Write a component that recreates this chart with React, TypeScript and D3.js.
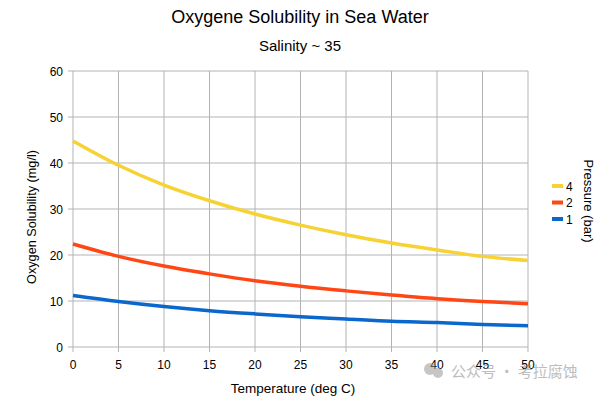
import React, { useEffect, useRef } from 'react';
import * as d3 from 'd3';

const temps = [0, 5, 10, 15, 20, 25, 30, 35, 40, 45, 50];
const bar4 = [44.8, 39.5, 35.2, 31.8, 28.9, 26.5, 24.4, 22.6, 21.1, 19.7, 18.8];
const bar2 = [22.4, 19.7, 17.6, 15.9, 14.4, 13.2, 12.2, 11.3, 10.5, 9.9, 9.4];
const bar1 = [11.2, 9.9, 8.8, 7.9, 7.2, 6.6, 6.1, 5.6, 5.3, 4.9, 4.6];
const seriesNames = ['4', '2', '1'];
const seriesColors = ['#f7d234', '#ff4715', '#0a67cc'];
const yTicks = [0, 10, 20, 30, 40, 50, 60];
const xTicks = [0, 5, 10, 15, 20, 25, 30, 35, 40, 45, 50];

const W = 614;
const H = 396;
const margin = { top: 71, right: 86, bottom: 49, left: 73 };

const App = () => {
  const svgRef = useRef(null);

  useEffect(() => {
    const svg = d3.select(svgRef.current);
    svg.selectAll('*').remove();
    const font = 'Liberation Sans, Arial, sans-serif';

    const x = d3.scaleLinear().domain([0, 50]).range([margin.left, W - margin.right]);
    const y = d3.scaleLinear().domain([0, 60]).range([H - margin.bottom, margin.top]);

    // grid
    const grid = svg.append('g');
    grid.selectAll('.gx').data(xTicks).enter().append('line')
      .attr('x1', (d) => x(d)).attr('x2', (d) => x(d))
      .attr('y1', y(60)).attr('y2', y(0) + 5)
      .attr('stroke', '#b3b3b3').attr('stroke-width', 1);
    grid.selectAll('.gy').data(yTicks).enter().append('line')
      .attr('x1', x(0) - 5).attr('x2', x(50))
      .attr('y1', (d) => y(d)).attr('y2', (d) => y(d))
      .attr('stroke', '#b3b3b3').attr('stroke-width', 1);

    // tick labels
    svg.append('g').selectAll('text').data(yTicks).enter().append('text')
      .attr('x', x(0) - 10).attr('y', (d) => y(d) + 4.5)
      .attr('text-anchor', 'end').attr('font-family', font).attr('font-size', 12)
      .text((d) => d);
    svg.append('g').selectAll('text').data(xTicks).enter().append('text')
      .attr('x', (d) => x(d)).attr('y', y(0) + 22)
      .attr('text-anchor', 'middle').attr('font-family', font).attr('font-size', 12)
      .text((d) => d);

    // lines
    const allSeries = [bar4, bar2, bar1];
    const line = d3.line()
      .x((d, i) => x(temps[i]))
      .y((d) => y(d))
      .curve(d3.curveMonotoneX);
    allSeries.forEach((s, i) => {
      svg.append('path')
        .datum(s)
        .attr('fill', 'none')
        .attr('stroke', seriesColors[i])
        .attr('stroke-width', 3.5)
        .attr('d', line);
    });

    // titles
    svg.append('text').attr('x', 300).attr('y', 23).attr('text-anchor', 'middle')
      .attr('font-family', font).attr('font-size', 18).text('Oxygene Solubility in Sea Water');
    svg.append('text').attr('x', 300).attr('y', 51).attr('text-anchor', 'middle')
      .attr('font-family', font).attr('font-size', 15).text('Salinity ~ 35');
    svg.append('text').attr('x', 293).attr('y', 393).attr('text-anchor', 'middle')
      .attr('font-family', font).attr('font-size', 13.5).text('Temperature (deg C)');
    svg.append('text')
      .attr('transform', 'translate(36, 217) rotate(-90)')
      .attr('text-anchor', 'middle').attr('font-family', font).attr('font-size', 12.7)
      .text('Oxygen Solubility (mg/l)');

    // legend
    const leg = svg.append('g');
    seriesNames.forEach((n, i) => {
      const ly = 186 + i * 16.5;
      leg.append('line').attr('x1', 552).attr('x2', 563).attr('y1', ly).attr('y2', ly)
        .attr('stroke', seriesColors[i]).attr('stroke-width', 4);
      leg.append('text').attr('x', 566).attr('y', ly + 4.5).attr('font-family', font)
        .attr('font-size', 12).text(n);
    });
    svg.append('text')
      .attr('transform', 'translate(584, 201) rotate(90)')
      .attr('text-anchor', 'middle').attr('font-family', font).attr('font-size', 13)
      .text('Pressure (bar)');

    // watermark
    const wm = svg.append('g').attr('opacity', 0.55);
    wm.append('circle').attr('cx', 430).attr('cy', 369).attr('r', 6).attr('fill', '#999');
    wm.append('circle').attr('cx', 438).attr('cy', 373).attr('r', 5).attr('fill', '#999');
    wm.append('text').attr('x', 451).attr('y', 377).attr('font-family', 'Noto Sans CJK SC, sans-serif')
      .attr('font-size', 15).attr('fill', '#888').text('公众号 · 考拉腐蚀');
  }, []);

  return (
    <svg ref={svgRef} width={W} height={H} style={{ position: 'absolute', left: 0, top: 0, background: '#fff' }}></svg>
  );
};

export default App;
